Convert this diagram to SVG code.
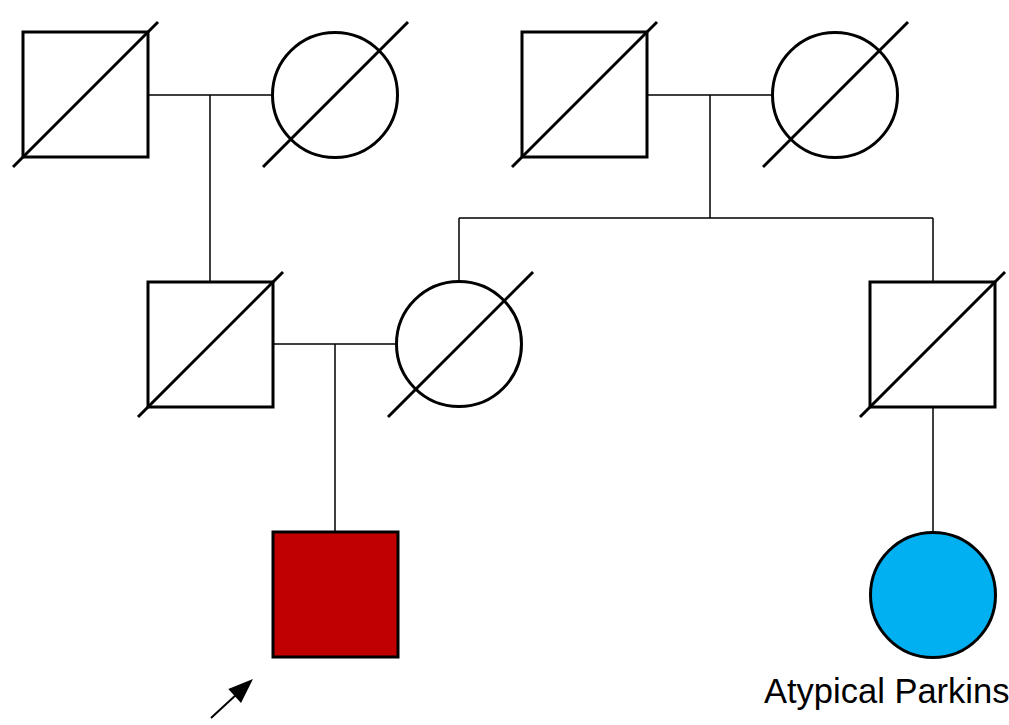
<svg xmlns="http://www.w3.org/2000/svg" width="1009" height="725" viewBox="0 0 1009 725">
<style>
.sym{fill:#fff;stroke:#000;stroke-width:3}
.dx{stroke:#000;stroke-width:3;stroke-linecap:butt}
.ln{fill:none;stroke:#000;stroke-width:1.5}
.lbl{font-family:"Liberation Sans",Arial,sans-serif;font-size:34.5px;fill:#000}
</style>
<rect width="1009" height="725" fill="#fff"/>
<g id="connectors">
<path class="ln" d="M148,95 H273 M210,95 V282"/>
<path class="ln" d="M647,95 H772 M710,95 V218 M459,218 H933 M459,218 V282 M933,218 V282"/>
<path class="ln" d="M273,344 H397 M335,344 V532"/>
<path class="ln" d="M933,407 V532"/>
</g>
<g id="gf1"><rect class="sym" x="23" y="32" width="125" height="125"/><line class="dx" x1="13" y1="167" x2="158" y2="22"/></g>
<g id="gm1"><circle class="sym" cx="335" cy="95" r="62.5"/><line class="dx" x1="263" y1="167" x2="408" y2="22"/></g>
<g id="gf2"><rect class="sym" x="522" y="32" width="125" height="125"/><line class="dx" x1="512" y1="167" x2="657" y2="22"/></g>
<g id="gm2"><circle class="sym" cx="835" cy="95" r="62.5"/><line class="dx" x1="763" y1="167" x2="908" y2="22"/></g>
<g id="father"><rect class="sym" x="148" y="282" width="125" height="125"/><line class="dx" x1="138" y1="417" x2="283" y2="272"/></g>
<g id="mother"><circle class="sym" cx="459" cy="344" r="62.5"/><line class="dx" x1="388" y1="417" x2="533" y2="272"/></g>
<g id="uncle"><rect class="sym" x="870" y="282" width="125" height="125"/><line class="dx" x1="860" y1="417" x2="1005" y2="272"/></g>
<g id="proband"><rect x="273" y="532" width="125" height="125" fill="#C00000" stroke="#000" stroke-width="3"/>
<line x1="211" y1="718" x2="237" y2="694" stroke="#000" stroke-width="2"/>
<polygon points="253,679 241,703 228.3,689" fill="#000"/></g>
<g id="cousin"><circle cx="933" cy="595" r="62.5" fill="#00B0F0" stroke="#000" stroke-width="3"/>
<text class="lbl" x="764" y="703">Atypical Parkins</text></g>
</svg>
